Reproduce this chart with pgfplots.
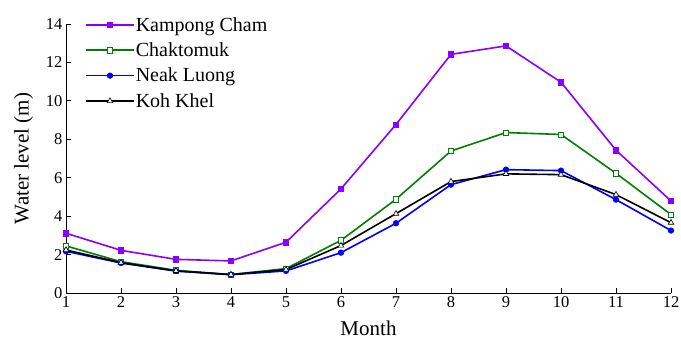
\documentclass[border=0pt]{standalone}
\usepackage{fontspec}
\setmainfont{Liberation Serif}
\newfontfamily\tnr{Liberation Serif}
\usepackage{pgfplots}
\pgfplotsset{compat=1.18}
\definecolor{kcColor}{RGB}{136,0,255}
\definecolor{chColor}{RGB}{0,128,0}
\definecolor{nlColor}{RGB}{0,0,255}
\begin{document}
\begin{tikzpicture}
\begin{axis}[
  scale only axis, width=605pt, height=269pt,
  xmin=1, xmax=12, ymin=0, ymax=14,
  xtick={1,...,12}, ytick={0,2,...,14},
  axis x line*=bottom, axis y line*=left,
  axis line style={line width=0.8pt, -},
  tick style={line width=0.8pt, black},
  major tick length=5pt,
  tick align=inside,
  /pgf/number format/assume math mode=true,
  ticklabel style={font=\tnr\fontsize{16.5}{18}\selectfont},
  xlabel={Month}, ylabel={Water level (m)},
  label style={font=\tnr\fontsize{21}{24}\selectfont},
  xlabel style={yshift=-6pt},
  ylabel style={yshift=6pt},
  legend style={at={(19pt,277pt)}, anchor=north west, draw=none, fill=none,
    font=\tnr\fontsize{20}{22}\selectfont, row sep=8pt, inner sep=0pt,
    nodes={inner sep=1pt}},
  legend cell align=left,
  legend image code/.code={
    \draw[mark repeat=2, mark phase=2, #1] plot coordinates {(0pt,0pt) (24pt,0pt) (48pt,0pt)};
  },
]
\addplot[draw=kcColor, line width=1.6pt, mark=square*, mark size=2.6pt, mark options={solid, fill=kcColor, draw=kcColor, line width=0.6pt}] coordinates {
(1,3.11) (2,2.22) (3,1.75) (4,1.67) (5,2.64) (6,5.42) (7,8.77) (8,12.42) (9,12.86) (10,10.97) (11,7.43) (12,4.79)};
\addlegendentry{Kampong Cham}
\addplot[draw=chColor, line width=1.6pt, mark=square*, mark size=2.6pt, mark options={solid, fill=white, draw=chColor, line width=0.6pt}] coordinates {
(1,2.45) (2,1.63) (3,1.18) (4,0.96) (5,1.27) (6,2.74) (7,4.88) (8,7.39) (9,8.35) (10,8.25) (11,6.23) (12,4.08)};
\addlegendentry{Chaktomuk}
\addplot[draw=nlColor, line width=1.6pt, mark=*, mark size=2.8pt, mark options={solid, fill=nlColor, draw=nlColor, line width=0.6pt}] coordinates {
(1,2.17) (2,1.56) (3,1.14) (4,0.95) (5,1.15) (6,2.10) (7,3.63) (8,5.64) (9,6.42) (10,6.37) (11,4.86) (12,3.25)};
\addlegendentry{Neak Luong}
\addplot[draw=black, line width=1.6pt, mark=triangle*, mark size=3.2pt, mark options={solid, fill=white, draw=black, line width=0.6pt}] coordinates {
(1,2.24) (2,1.58) (3,1.15) (4,0.96) (5,1.22) (6,2.47) (7,4.13) (8,5.80) (9,6.20) (10,6.16) (11,5.12) (12,3.66)};
\addlegendentry{Koh Khel}
\end{axis}
\pgfresetboundingbox
\path[use as bounding box] (-66pt,-49pt) rectangle (615pt,293pt);
\end{tikzpicture}
\end{document}
